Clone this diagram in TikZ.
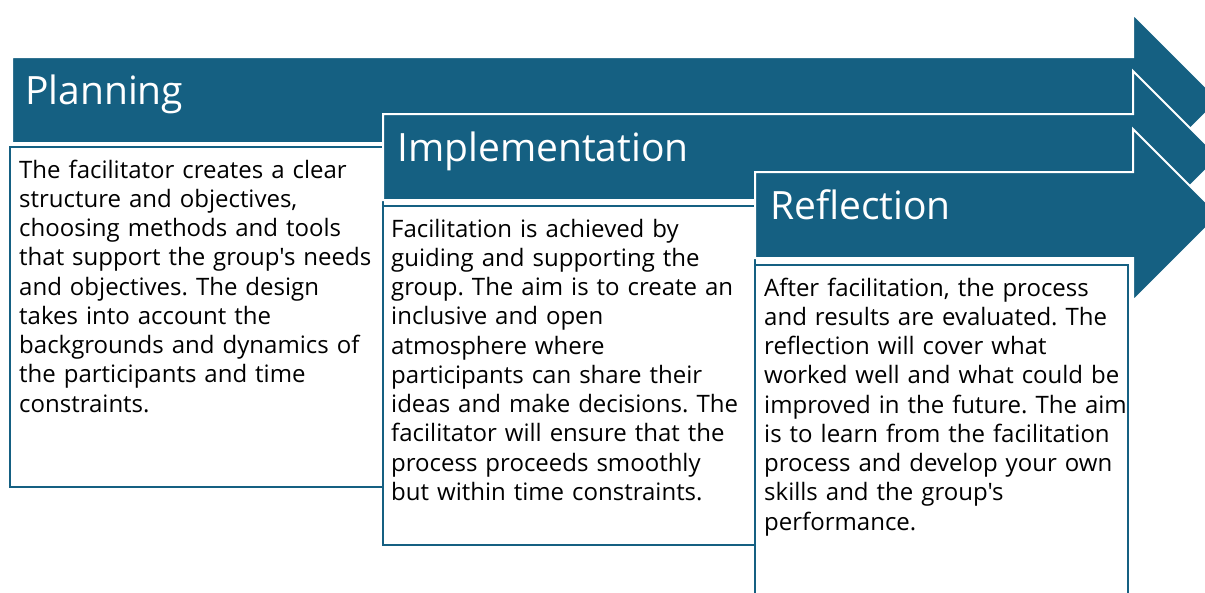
\documentclass[tikz,border=0pt]{standalone}
\usepackage{fontspec}
\newfontfamily\diagfont{Open Sans}
\definecolor{accent}{HTML}{156082}
\frenchspacing
\begin{document}
\begin{tikzpicture}[x=1pt,y=-1pt,
  band/.style={fill=accent, draw=white, line width=2pt, line join=miter},
  card/.style={fill=white, draw=accent, line width=2.2pt},
  heading/.style={anchor=base west, inner sep=0pt, text=white,
    font=\diagfont\fontsize{39}{44}\selectfont},
  bodytext/.style={anchor=base west, inner sep=0pt, text width=365pt,
    align=left, font=\diagfont\fontsize{24}{29.25}\selectfont}
]
\useasboundingbox (0,0) rectangle (1205,592);
\clip (0,0) rectangle (1205,592);

% Stage 1: Planning
\draw[band] (12,57) -- (1133,57) -- (1133,14) -- (1219,100) -- (1133,186)
  -- (1133,143) -- (12,143) -- cycle;
\draw[card] (10,147) rectangle (383,487);
\node[heading] (planT) at (25,104) {Planning};
\node[bodytext] (planB) at (19,178) {The facilitator creates a clear\\
structure and objectives,\\
choosing methods and tools\\
that support the group's needs\\
and objectives. The design\\
takes into account the\\
backgrounds and dynamics of\\
the participants and time\\
constraints.};

% Stage 2: Implementation
\draw[band] (383,114) -- (1133,114) -- (1133,71) -- (1219,157) -- (1133,243)
  -- (1133,200) -- (383,200) -- cycle;
\draw[card] (383,206) rectangle (755,545);
\node[heading] (implT) at (397,161) {Implementation};
\node[bodytext] (implB) at (391,237) {Facilitation is achieved by\\
guiding and supporting the\\
group. The aim is to create an\\
inclusive and open\\
atmosphere where\\
participants can share their\\
ideas and make decisions. The\\
facilitator will ensure that the\\
process proceeds smoothly\\
but within time constraints.};

% Stage 3: Reflection
\draw[band] (755,172) -- (1133,172) -- (1133,129) -- (1219,215) -- (1133,301)
  -- (1133,258) -- (755,258) -- cycle;
\draw[card] (755,265) rectangle (1128,610);
\node[heading] (reflT) at (770,219) {Reflection};
\node[bodytext] (reflB) at (764,296) {After facilitation, the process\\
and results are evaluated. The\\
reflection will cover what\\
worked well and what could be\\
improved in the future. The aim\\
is to learn from the facilitation\\
process and develop your own\\
skills and the group's\\
performance.};
\end{tikzpicture}
\end{document}
